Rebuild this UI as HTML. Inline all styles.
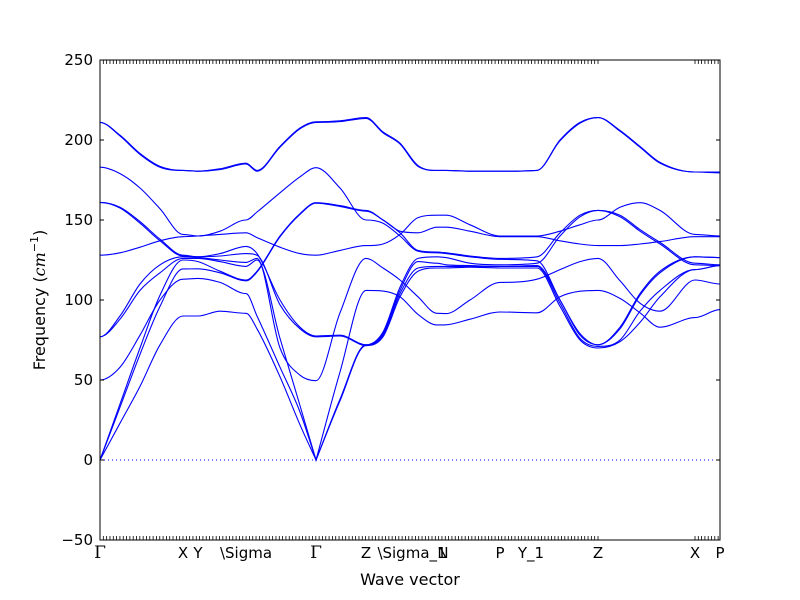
<!DOCTYPE html>
<html><head><meta charset="utf-8"><style>
html,body{margin:0;padding:0;background:#fff;}
svg{display:block;font-family:"DejaVu Sans","Liberation Sans",sans-serif;}
</style></head><body>
<svg id="chart" width="800" height="600" viewBox="0 0 800 600" xmlns="http://www.w3.org/2000/svg">
<rect x="0" y="0" width="800" height="600" fill="#fff"/>
<g id="bands"></g>
<g id="ticks"></g>
<rect x="100" y="60" width="620" height="480" fill="none" stroke="#000" stroke-width="1"/>
<text x="410" y="585" font-size="16" text-anchor="middle">Wave vector</text>
<text transform="translate(45,300) rotate(-90)" font-size="16" text-anchor="middle">Frequency (<tspan font-style="italic" font-family="DejaVu Serif, serif">cm</tspan><tspan font-size="11" dy="-7">−1</tspan><tspan dy="7">)</tspan></text>
</svg>
<script>
const qx=[0,20,40,60,83,98,120,146,157,180,200,216,240,266,283,300,318,337,346,370,400,437,460,480,498,520,540,560,595,620];
const b1=[211,203,191.6,183.5,181,180.5,182,185.5,181,196,207.5,211.4,212,214,205,198,184,181,181,180.5,180.5,181,200,211,214,206,196,186,180,180];
const b2=[211,202.5,191,183,181,180.5,181.5,185,180.5,195.5,207,211,211.5,213.5,204.5,197.5,183.5,181,181,180.5,180.5,181,199.5,210.5,214,205.5,195.5,185.5,180,179.5];
const b3=[183,179,170,157,141,140,143,150,155,167,177,182.7,170,150,148,140,130.5,129.5,129,127,125.4,124.5,100,79,72,83,104,118,127,126.5];
const b4=[161,158,149,138,128,127,129,133.5,129,100,83,77.5,78,72,80,108,126,127,126.5,123,122,123,140,152,156,152,143,135,122,121.5];
const b5=[161,157.5,148,137,127.5,127,127.5,129,128,97,82,77,77.5,71.5,79,106,124,123,122,121.5,121,121.5,100,78,72,82,103,117,127,126.5];
const b6=[128,129.5,133,137,139.6,140,141,142,139,133,129,128,131,134,135,141,151.5,153,153,147,140,140,143,147,150,158,160.8,156,141,140];
const b7=[77,90,110,122,127,126.5,125,123.5,126,70,53,49.6,92,126,120,112.5,102,91.7,91.5,100,111,113,119,124,126,112,98,93,112.5,110];
const b8=[77,88,106,117,126,126,124,121,125,76,34,0,55,106,105.6,102,91,84.4,84.5,88,92.5,92,102,105.5,106,101,92,83,89,94];
const b9=[50,58,78,100,113,113.5,111,104,90,58,30,0,38,72,78,104,120,121,121,121,121,121,98,76,71,75,93,106,119,121.5];
const b10=[0,35,70,103,125,124,118,112.5,118,140,154,160.8,159,156,150,143,142,145.5,145.5,143,139.6,139.6,137,135,134,134,135,136.5,139.6,139.6];
const b11=[0,33,66,96,119.4,119.5,117,112,117.5,139.5,153.5,160.5,158.5,155.5,150,142,131,130,129.5,127.5,126,127,142,153,156,153,144,136,123,122];
const b12=[0,23,46,72,90,90,93,91.7,82,52,22,0,37,71.5,77,102,118,120,120,120.5,120,120,96,75,70,74,86,102,119,121.5];
const bandList=[b1,b2,b3,b4,b5,b6,b7,b8,b9,b10,b11,b12];
const kinkQ=[0,83,146,216,266,337,400,498,595,620];
const yTicks=[-50,0,50,100,150,200,250];
const symLabels=["Γ","X","Y","\\Sigma","Γ","Z","\\Sigma_1","N","P","Y_1","Z","X","P"];
const symPos=[0,83,98,146,216,266,312,343,400,431,498,595,620];

const NS="http://www.w3.org/2000/svg";
const X0=100,Y0=460,FS=1.6;
function sx(q){return X0+q;}
function sy(f){return Y0-f*FS;}
function mk(tag,attrs,parent){const e=document.createElementNS(NS,tag);for(const k in attrs)e.setAttribute(k,attrs[k]);parent.appendChild(e);return e;}

function segPath(xs,ys,fs,first){
  const n=xs.length,d=[],m=[];
  for(let i=0;i<n-1;i++)d.push((ys[i+1]-ys[i])/(xs[i+1]-xs[i]));
  m[0]=Math.abs(fs[0])<1?d[0]:0;
  m[n-1]=Math.abs(fs[n-1])<1?d[n-2]:0;
  for(let i=1;i<n-1;i++){m[i]=(d[i-1]*d[i]<=0)?0:(d[i-1]+d[i])/2;}
  for(let i=0;i<n-1;i++){
    if(d[i]===0){m[i]=0;m[i+1]=0;continue;}
    const a=m[i]/d[i],b=m[i+1]/d[i],s=a*a+b*b;
    if(s>9){const t=3/Math.sqrt(s);m[i]=t*a*d[i];m[i+1]=t*b*d[i];}
  }
  let p=first?("M"+xs[0].toFixed(2)+","+ys[0].toFixed(2)):"";
  for(let i=0;i<n-1;i++){
    const h=(xs[i+1]-xs[i])/3;
    p+="C"+(xs[i]+h).toFixed(2)+","+(ys[i]+m[i]*h).toFixed(2)+" "+(xs[i+1]-h).toFixed(2)+","+(ys[i+1]-m[i+1]*h).toFixed(2)+" "+xs[i+1].toFixed(2)+","+ys[i+1].toFixed(2);
  }
  return p;
}
function bandPath(band){
  let p="";
  for(let k=0;k<kinkQ.length-1;k++){
    const i0=qx.indexOf(kinkQ[k]),i1=qx.indexOf(kinkQ[k+1]);
    const q=qx.slice(i0,i1+1),f=band.slice(i0,i1+1);
    p+=segPath(q.map(sx),f.map(sy),f,k===0);
  }
  return p;
}

const gB=document.getElementById('bands');
const zl=mk('line',{x1:sx(0),x2:sx(620),y1:sy(0),y2:sy(0),stroke:'#0000ff','stroke-width':1,'stroke-dasharray':'1,3'},gB);


bandList.forEach((b,i)=>{
  const p=mk('path',{d:bandPath(b),fill:'none',stroke:'#0000ff','stroke-width':1.1},gB);
  
  
});

const gT=document.getElementById('ticks');
yTicks.forEach(v=>{
  const y=sy(v);
  const t1=mk('line',{x1:100,x2:104,y1:y,y2:y,stroke:'#000'},gT);
  
  
  const t2=mk('line',{x1:716,x2:720,y1:y,y2:y,stroke:'#000'},gT);
  
  
  const tl=mk('text',{x:93,y:y+5,'font-size':15,'text-anchor':'end'},gT);
  tl.textContent=(v<0?'−'+(-v):String(v));
  
  
});
function qTick(x){
  const a=mk('line',{x1:x,x2:x,y1:60,y2:64,stroke:'#000','stroke-width':0.8},gT);
  
  
  const b=mk('line',{x1:x,x2:x,y1:536,y2:540,stroke:'#000','stroke-width':0.8},gT);
  
  
}
for(let x=100;x<=598.5;x+=3.32)qTick(x);
for(let x=695;x<=720;x+=3.3)qTick(x);
symLabels.forEach((s,i)=>{
  const isG=s==="Γ";
  const t=mk('text',{x:sx(symPos[i]),y:558,'font-size':isG?17:15,'text-anchor':'middle','font-family':isG?'"DejaVu Serif","Liberation Serif",serif':'"DejaVu Sans","Liberation Sans",sans-serif'},gT);
  t.textContent=s;
  
  
});
</script>
</body></html>
